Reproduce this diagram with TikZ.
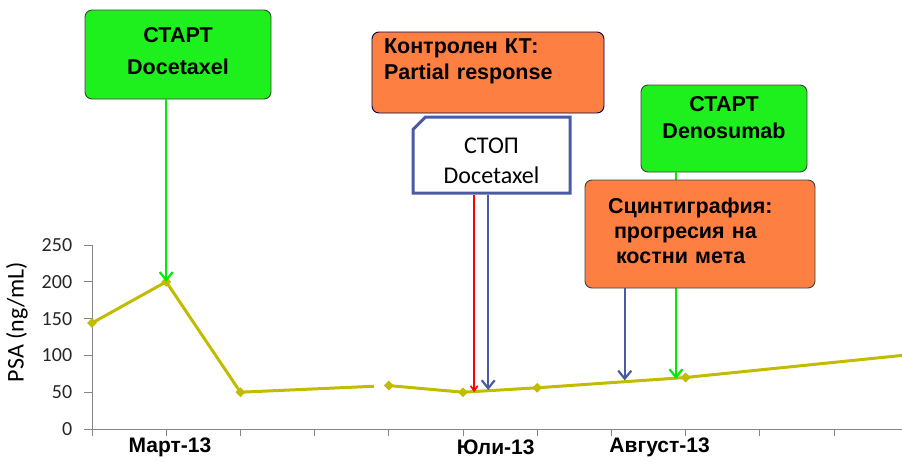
\documentclass[tikz,border=0pt]{standalone}
\usepackage{fontspec}
\setmainfont{Liberation Sans}
\newfontfamily\calibfont{Carlito}
\usetikzlibrary{arrows.meta,shapes.geometric,shapes.misc}
\definecolor{cGreen} {RGB}{30,240,30}
\definecolor{cArrG}  {RGB}{0,235,0}
\definecolor{cOrange}{RGB}{253,128,66}
\definecolor{cBlue}  {RGB}{76,90,166}
\definecolor{cOlive} {RGB}{194,188,0}
\definecolor{cAxis}  {RGB}{134,134,134}
\tikzset{
  >={Straight Barb[length=8pt,width=13pt]},
  box/.style={draw=black!75,rounded corners=7pt,line width=0.9pt,
              font=\fontsize{21.5}{26}\selectfont\bfseries},
  startbox/.style={box,fill=cGreen,align=center},                 % green start box
  notebox/.style={box,fill=cOrange,align=left},                   % orange finding box
  stopbox/.style={draw=cBlue,line width=3pt,fill=white,chamfered rectangle,
              chamfered rectangle corners=north west,chamfered rectangle xsep=9pt,
              align=center,font=\calibfont\fontsize{24}{30}\selectfont},
  axis/.style={cAxis,line width=1pt},
  psa/.style={cOlive,line width=3pt,line join=round},
  dmark/.style={diamond,fill=cOlive,minimum size=10pt,inner sep=0pt},
  ytick/.style={anchor=east,font=\calibfont\fontsize{20}{20}\selectfont,text=black!85},
  xlab/.style={font=\fontsize{21}{21}\selectfont\bfseries},
  garrow/.style={->,cArrG,line width=2.2pt},
  barrow/.style={->,cBlue,line width=2.2pt},
  rarrow/.style={-{Straight Barb[length=5pt,width=7pt]},red,line width=1.6pt},
}
\begin{document}
\begin{tikzpicture}[x=1pt,y=-1pt]
  \useasboundingbox (0,0) rectangle (902,461);
  % chart: categories every 74.2px, values in ng/mL
  \begin{scope}[shift={(92,429)},x=74.2pt,y=0.736pt]
    \draw[axis](0,250)--(0,0)--(10.92,0);
    \foreach \v in {0,50,...,250} \draw[axis](0,\v)--++(-8pt,0);
    \foreach \k in {0,...,10} \draw[axis](\k,0)--++(0,-7pt);
    \node[ytick] (y0)   at (-0.22,0)  {0};
    \node[ytick] (y50)  at (-0.22,50) {50};
    \node[ytick] (y100) at (-0.22,100){100};
    \node[ytick] (y150) at (-0.22,150){150};
    \node[ytick] (y200) at (-0.22,200){200};
    \node[ytick] (y250) at (-0.22,250){250};
    \node[xlab] (xMar) at (1.05,-25){Март-13};
    \node[xlab] (xJul) at (5.44,-25){Юли-13};
    \node[xlab] (xAug) at (7.65,-25){Август-13};
    % PSA values
    \coordinate (p1) at (0,144);
    \coordinate (p2) at (1,200);
    \coordinate (p3) at (2,50);
    \coordinate (pgap) at (3.8,58.1);
    \coordinate (p4) at (4,59);
    \coordinate (p5) at (5,50);
    \coordinate (p6) at (6,56);
    \coordinate (p7) at (8,70);
    \coordinate (pend) at (10.92,100);
    \draw[psa](p1)--(p2)--(p3)--(pgap);
    \draw[psa](p4)--(p5)--(p6)--(p7)--(pend);
    \node[dmark] (m1) at (p1){}; \node[dmark] (m2) at (p2){};
    \node[dmark] (m3) at (p3){}; \node[dmark] (m4) at (p4){};
    \node[dmark] (m5) at (p5){}; \node[dmark] (m6) at (p6){};
    \node[dmark] (m7) at (p7){};
    % arrow targets on the curve
    \coordinate (tRed)   at (5.15,50);
    \coordinate (tStop)  at (5.34,53);
    \coordinate (tScint) at (7.18,66);
    \coordinate (tDeno)  at (7.87,68);
  \end{scope}
  \node[rotate=90,font=\calibfont\fontsize{24}{24}\selectfont] (ylab) at (17,322){PSA (ng/mL)};
  % event boxes
  \node[startbox,minimum width=186pt,minimum height=89pt,font=\fontsize{21.5}{32}\selectfont\bfseries]
    (doc) at (178,54.5){СТАРТ\\Docetaxel\\[-34pt]\strut};
  \node[notebox,draw=black!70!blue,minimum height=81pt,text width=208pt,inner xsep=12pt]
    (ct) at (488,72.5){Контролен КТ:\\Partial response\\[-8pt]\strut};
  \node[stopbox,minimum width=157pt,minimum height=76pt] (stop) at (491.5,155)
    {\rule{0pt}{27pt}СТОП\\Docetaxel};
  \node[startbox,minimum width=166pt,minimum height=87pt,font=\fontsize{21.5}{27}\selectfont\bfseries]
    (deno) at (724,128.5){СТАРТ\\Denosumab\\[-14pt]\strut};
  \draw[garrow](deno.south -| tDeno)--(tDeno);
  \node[notebox,minimum height=108pt,text width=184pt,inner xsep=23pt,font=\fontsize{21.5}{25}\selectfont\bfseries]
    (scint) at (700,234){Сцинтиграфия:\\\hspace*{6pt}прогресия на\\\hspace*{8pt}костни мета\\[-26pt]\strut};
  % arrows
  \draw[garrow](doc.south -| p2)--(p2);
  \draw[rarrow](stop.south -| tRed)--(tRed);
  \draw[barrow](stop.south -| tStop)--(tStop);
  \draw[barrow](scint.south -| tScint)--(tScint);
\end{tikzpicture}
\end{document}
